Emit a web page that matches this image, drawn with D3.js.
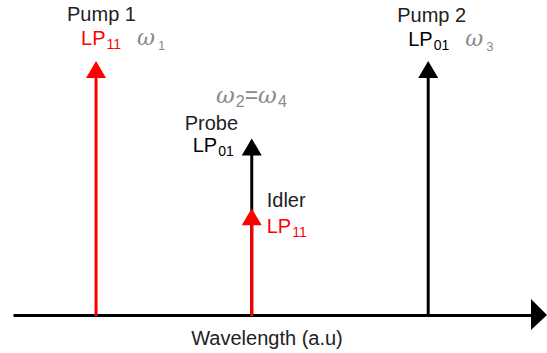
<!DOCTYPE html>
<html>
<head>
<meta charset="utf-8">
<script src="https://cdn.jsdelivr.net/npm/d3@7"></script>
<style>
  body { margin: 0; background: #fff; }
  text { font-family: "Liberation Sans", Arial, sans-serif; }
  .omega { font-family: "DejaVu Serif", serif; font-style: italic; font-weight: 300; fill: #8a8a8a; }
</style>
</head>
<body>
<div id="chart"></div>
<script>
// wavelength position (a.u.) and relative amplitude of each wave
const waves = ['Pump 1', 'Probe', 'Idler', 'Pump 2'];
const positions = [1.6, 4.6, 4.6, 8.0];
const amplitudes = [10, 6.95, 4.2, 10];
const modes = ['11', '01', '11', '01'];
const freqs = ['1', '', '', '3'];

const width = 547, height = 353;

const svg = d3.select('#chart')
  .append('svg')
  .attr('width', width)
  .attr('height', height);

const x = d3.scaleLinear().domain([0, 10]).range([13, 532]);
const y = d3.scaleLinear().domain([0, 10]).range([315, 61]);

const modeColor = m => m === '11' ? '#ff0000' : '#000000';

// horizontal axis (no ticks) with arrow head
const axis = svg.append('g')
  .attr('transform', `translate(0,${y(0)})`)
  .call(d3.axisBottom(x).ticks(0).tickSizeOuter(0));
axis.select('.domain').attr('stroke', '#000').attr('stroke-width', 3);

svg.append('path')
  .attr('d', `M${x(10) - 1},${y(0) - 16}L${x(10) + 15},${y(0)}L${x(10) - 1},${y(0) + 15}Z`)
  .attr('fill', '#000');

svg.append('text')
  .attr('x', 267)
  .attr('y', 345)
  .attr('text-anchor', 'middle')
  .attr('font-size', 20)
  .attr('fill', '#222')
  .text('Wavelength (a.u)');

// arrows for each wave
const headH = 17, headW = 10;
const arrows = svg.append('g')
  .selectAll('g')
  .data(waves.map((w, i) => ({ name: w, pos: positions[i], amp: amplitudes[i], mode: modes[i] })))
  .join('g');

arrows.append('line')
  .attr('x1', d => x(d.pos))
  .attr('x2', d => x(d.pos))
  .attr('y1', y(0) + 1)
  .attr('y2', d => y(d.amp) + headH - 1)
  .attr('stroke', d => modeColor(d.mode))
  .attr('stroke-width', 3);

arrows.append('path')
  .attr('d', d => {
    const cx = x(d.pos), ty = y(d.amp);
    return `M${cx},${ty}L${cx + headW},${ty + headH}L${cx - headW},${ty + headH}Z`;
  })
  .attr('fill', d => modeColor(d.mode));

// labels
function label(px, py, txt, color) {
  return svg.append('text')
    .attr('x', px).attr('y', py)
    .attr('font-size', 20)
    .attr('fill', color)
    .text(txt);
}

function lpLabel(px, py, mode) {
  const t = svg.append('text')
    .attr('x', px).attr('y', py)
    .attr('font-size', 20)
    .attr('fill', modeColor(mode));
  t.append('tspan').text('LP');
  t.append('tspan').attr('font-size', 14).attr('dy', 4).attr('dx', 1).text(mode);
  return t;
}

function omegaLabel(px, py, sub) {
  const t = svg.append('text')
    .attr('class', 'omega')
    .attr('x', px).attr('y', py)
    .attr('font-size', 22);
  t.append('tspan').text('ω');
  t.append('tspan').attr('font-size', 13).attr('dy', 5).attr('dx', 3)
    .style('font-family', '"Liberation Sans", Arial, sans-serif').style('font-style', 'normal')
    .text(sub);
  return t;
}

// Pump 1
const p1 = x(positions[0]), p1y = y(amplitudes[0]);
label(p1 - 29, p1y - 40, waves[0], '#222');
lpLabel(p1 - 15, p1y - 16, modes[0]);
omegaLabel(p1 + 41, p1y - 16, freqs[0]);

// Pump 2
const p2 = x(positions[3]), p2y = y(amplitudes[3]);
label(p2 - 31, p2y - 39, waves[3], '#222');
lpLabel(p2 - 20, p2y - 15, modes[3]);
omegaLabel(p2 + 37, p2y - 15, freqs[3]);

// Probe
const pr = x(positions[1]), pry = y(amplitudes[1]);
label(pr - 67, pry - 8, waves[1], '#222');
lpLabel(pr - 59, pry + 14, modes[1]);

// omega2 = omega4
const sans = '"Liberation Sans", Arial, sans-serif';
const eq = svg.append('text')
  .attr('class', 'omega')
  .attr('x', 216).attr('y', 103)
  .attr('font-size', 23);
eq.append('tspan').text('ω');
eq.append('tspan').attr('font-size', 16).attr('dy', 4).attr('dx', 1)
  .style('font-family', sans).style('font-style', 'normal').text('2');
eq.append('tspan').attr('dy', -4).attr('font-size', 23)
  .style('font-family', sans).style('font-style', 'normal').text('=');
eq.append('tspan').text('ω');
eq.append('tspan').attr('font-size', 16).attr('dy', 4).attr('dx', 1)
  .style('font-family', sans).style('font-style', 'normal').text('4');

// Idler
const id = x(positions[2]), idy = y(amplitudes[2]);
label(id + 15, idy - 1, waves[2], '#222');
lpLabel(id + 15, idy + 25, modes[2]);
</script>
</body>
</html>
